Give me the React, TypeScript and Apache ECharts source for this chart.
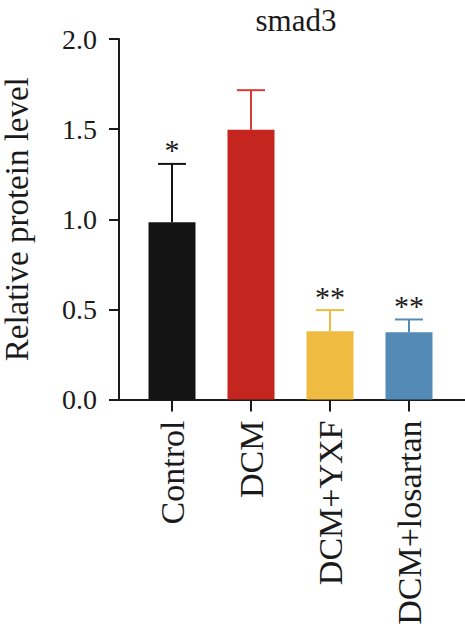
import React, { useEffect, useRef } from "react";
import * as echarts from "echarts";

const categories = ["Control", "DCM", "DCM+YXF", "DCM+losartan"];
const means = [0.984, 1.496, 0.379, 0.373];
const upper = [1.307, 1.716, 0.496, 0.444];
const marks = ["*", "", "**", "**"];
const barColors = ["#141414", "#c4261f", "#f0bb41", "#548bb6"];
const errColors = ["#141414", "#d93a33", "#f0bb41", "#548bb6"];
const yTicks = [0, 0.5, 1.0, 1.5, 2.0];

const FONT = "Liberation Serif";

export default function App() {
  const ref = useRef<HTMLDivElement>(null);
  useEffect(() => {
    if (!ref.current) return;
    const chart = echarts.init(ref.current, null, { renderer: "svg" });
    const option: any = {
      animation: false,
      backgroundColor: "#ffffff",
      title: {
        text: "smad3",
        left: 291,
        top: 0,
        textAlign: "center",
        textStyle: { fontFamily: FONT, fontSize: 31, fontWeight: "normal", color: "#1a1a1a" },
      },
      grid: [
        { left: 119, right: 0, top: 39, bottom: 227.5, containLabel: false, outerBoundsMode: "none" },
        { left: 132.5, right: 16.5, top: 39, bottom: 227.5, containLabel: false, outerBoundsMode: "none" },
      ],
      xAxis: [
        {
          gridIndex: 0,
          type: "value",
          min: 0,
          max: 1,
          axisLine: { show: true, lineStyle: { color: "#1a1a1a", width: 2 } },
          axisTick: { show: false },
          axisLabel: { show: false },
          splitLine: { show: false },
        },
        {
          gridIndex: 1,
          type: "category",
          data: categories,
          axisLine: { show: false },
          axisTick: { show: true, alignWithLabel: true, length: 12, lineStyle: { color: "#1a1a1a", width: 2 } },
          axisLabel: {
            rotate: 90,
            margin: 21,
            fontFamily: FONT,
            fontSize: 34,
            color: "#1a1a1a",
          },
        },
      ],
      yAxis: [
        {
          gridIndex: 0,
          type: "value",
          min: yTicks[0],
          max: yTicks[yTicks.length - 1],
          interval: 0.5,
          name: "Relative protein level",
          nameLocation: "middle",
          nameGap: 86,
          nameTextStyle: { fontFamily: FONT, fontSize: 33, color: "#1a1a1a" },
          axisLine: { show: true, lineStyle: { color: "#1a1a1a", width: 2 } },
          axisTick: { show: true, length: 10, lineStyle: { color: "#1a1a1a", width: 2 } },
          axisLabel: {
            margin: 22,
            fontFamily: FONT,
            fontSize: 28,
            color: "#1a1a1a",
            formatter: (v: number) => v.toFixed(1),
          },
          splitLine: { show: false },
        },
        {
          gridIndex: 1,
          type: "value",
          min: yTicks[0],
          max: yTicks[yTicks.length - 1],
          show: false,
        },
      ],
      series: [
        {
          type: "bar",
          xAxisIndex: 1,
          yAxisIndex: 1,
          barWidth: 47,
          data: means.map((v, i) => ({ value: v, itemStyle: { color: barColors[i] } })),
        },
        {
          type: "custom",
          xAxisIndex: 1,
          yAxisIndex: 1,
          z: 5,
          data: means.map((m, i) => [i, m, upper[i]]),
          renderItem: (params: any, api: any) => {
            const i = api.value(0);
            const base = api.coord([i, api.value(1)]);
            const top = api.coord([i, api.value(2)]);
            const color = errColors[i];
            const half = 14;
            const children: any[] = [
              {
                type: "line",
                shape: { x1: base[0], y1: base[1], x2: top[0], y2: top[1] },
                style: { stroke: color, lineWidth: 2 },
              },
              {
                type: "line",
                shape: { x1: top[0] - half, y1: top[1], x2: top[0] + half, y2: top[1] },
                style: { stroke: color, lineWidth: 2 },
              },
            ];
            if (marks[i]) {
              children.push({
                type: "text",
                x: top[0],
                y: top[1] + 1,
                style: {
                  text: marks[i],
                  fontFamily: FONT,
                  fontSize: 30,
                  fill: "#1a1a1a",
                  align: "center",
                  verticalAlign: "bottom",
                },
              });
            }
            return { type: "group", children };
          },
        },
      ],
    };
    chart.setOption(option);
    return () => chart.dispose();
  }, []);
  return <div ref={ref} style={{ position: "absolute", left: 0, top: 0, width: 465, height: 627 }} />;
}
